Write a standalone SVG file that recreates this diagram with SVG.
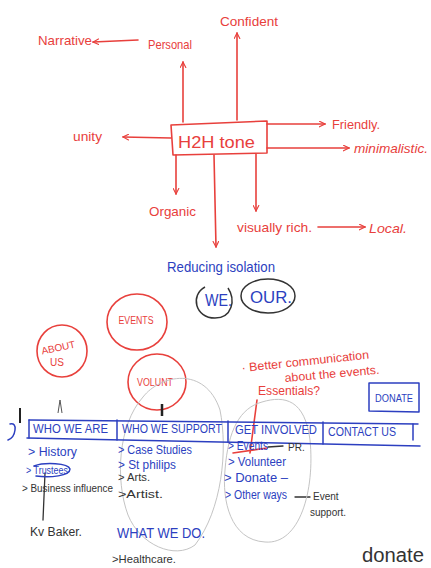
<svg xmlns="http://www.w3.org/2000/svg" width="431" height="568" viewBox="0 0 431 568">
<defs>
<style>
.r{fill:#e8403c;font-family:"Liberation Sans",Arial,sans-serif}
.b{fill:#2c3fc0;font-family:"Liberation Sans",Arial,sans-serif}
.k{fill:#333;font-family:"Liberation Sans",Arial,sans-serif}
.rl{fill:none;stroke:#e8403c;stroke-width:1.6;stroke-linecap:round;stroke-linejoin:round}
.bl{fill:none;stroke:#2c3fc0;stroke-width:1.5;stroke-linecap:round;stroke-linejoin:round}
.kl{fill:none;stroke:#333;stroke-width:1.3;stroke-linecap:round}
.gl{fill:none;stroke:#c4c4c4;stroke-width:1}
</style>
<marker id="ah" viewBox="0 0 10 10" refX="9" refY="5" markerWidth="7" markerHeight="7" orient="auto" markerUnits="userSpaceOnUse">
<path d="M1,1 L9,5 L1,9" fill="none" stroke="#e8403c" stroke-width="1.6" stroke-linecap="round"/>
</marker>
</defs>
<rect width="431" height="568" fill="#fff"/>

<g id="connectors">
<path class="rl" d="M138,40 L93,42" marker-end="url(#ah)"/>
<path class="rl" d="M183,122 L183,62" marker-end="url(#ah)"/>
<path class="rl" d="M237,120 L237,33" marker-end="url(#ah)"/>
<path class="rl" d="M267,124 L325,124" marker-end="url(#ah)"/>
<path class="rl" d="M171,138 L123,137" marker-end="url(#ah)"/>
<path class="rl" d="M267,148 L349,148" marker-end="url(#ah)"/>
<path class="rl" d="M176,155 L176,194" marker-end="url(#ah)"/>
<path class="rl" d="M214,155 L216,247" marker-end="url(#ah)"/>
<path class="rl" d="M256,154 L256,211" marker-end="url(#ah)"/>
<path class="rl" d="M318,227 L365,227" marker-end="url(#ah)"/>
<path class="rl" d="M257,400 L250,453"/>
<path class="rl" d="M233,453 L267,448"/>
<path class="kl" d="M295,497 L310,497"/>
<path class="kl" d="M268,447 L283,446"/>
<path class="kl" d="M45,473 L43,520"/>
</g>

<g id="h2h">
<path class="rl" d="M171,125 L267,121 L267,153 L173,155 Z"/>
<text class="r" x="178" y="148" font-size="17" textLength="77" lengthAdjust="spacingAndGlyphs">H2H  tone</text>
</g>
<g id="narrative"><text class="r" x="38" y="45" font-size="13" textLength="54" lengthAdjust="spacingAndGlyphs">Narrative</text></g>
<g id="personal"><text class="r" x="148" y="49" font-size="13" textLength="44" lengthAdjust="spacingAndGlyphs">Personal</text></g>
<g id="confident"><text class="r" x="220" y="26" font-size="13" textLength="58" lengthAdjust="spacingAndGlyphs">Confident</text></g>
<g id="friendly"><text class="r" x="332" y="129" font-size="13" textLength="48" lengthAdjust="spacingAndGlyphs">Friendly.</text></g>
<g id="unity"><text class="r" x="73" y="141" font-size="13" textLength="29" lengthAdjust="spacingAndGlyphs">unity</text></g>
<g id="minimalistic"><text class="r" x="354" y="153" font-size="13" font-style="italic" textLength="74" lengthAdjust="spacingAndGlyphs">minimalistic.</text></g>
<g id="organic"><text class="r" x="149" y="216" font-size="13" textLength="47" lengthAdjust="spacingAndGlyphs">Organic</text></g>
<g id="visually"><text class="r" x="237" y="232" font-size="13" textLength="75" lengthAdjust="spacingAndGlyphs">visually rich.</text></g>
<g id="local"><text class="r" x="369" y="233" font-size="13" font-style="italic" textLength="38" lengthAdjust="spacingAndGlyphs">Local.</text></g>

<g id="reducing">
<text class="b" x="167" y="272" font-size="15" textLength="108" lengthAdjust="spacingAndGlyphs">Reducing isolation</text>
</g>
<g id="we">
<path fill="none" stroke="#333" stroke-width="1.5" d="M205,287 C190,295 195,318 215,318 C232,318 236,300 228,288"/>
<text class="b" x="205" y="306" font-size="17" textLength="27" lengthAdjust="spacingAndGlyphs">WE.</text>
</g>
<g id="our">
<ellipse cx="268" cy="296" rx="27" ry="17" fill="none" stroke="#333" stroke-width="1.5"/>
<text class="b" x="250" y="303" font-size="17" textLength="42" lengthAdjust="spacingAndGlyphs">OUR.</text>
</g>

<g id="events">
<ellipse cx="137" cy="322" rx="30" ry="28" class="rl"/>
<text class="r" x="136" y="324" font-size="10" text-anchor="middle" textLength="35" lengthAdjust="spacingAndGlyphs">EVENTS</text>
</g>
<g id="aboutus">
<ellipse cx="62" cy="351" rx="25" ry="26" class="rl"/>
<text class="r" x="59" y="351" font-size="10" text-anchor="middle" transform="rotate(-12 59 351)">ABOUT</text>
<text class="r" x="57" y="366" font-size="10" text-anchor="middle">US</text>
</g>
<g id="volunt">
<ellipse cx="157" cy="382" rx="29" ry="28" class="rl"/>
<text class="r" x="155" y="386" font-size="10" text-anchor="middle" textLength="36" lengthAdjust="spacingAndGlyphs">VOLUNT</text>
</g>

<g id="notes">
<text class="r" x="242" y="372" font-size="12" transform="rotate(-6 242 372)" textLength="128" lengthAdjust="spacingAndGlyphs">· Better communication</text>
<text class="r" x="285" y="382" font-size="12" transform="rotate(-5 285 382)" textLength="95" lengthAdjust="spacingAndGlyphs">about the events.</text>
<text class="r" x="258" y="395" font-size="13" textLength="62" lengthAdjust="spacingAndGlyphs">Essentials?</text>
</g>

<g id="donate-btn">
<path class="bl" d="M369,383 L419,383 L419,412 L369,411 Z"/>
<text class="b" x="375" y="402" font-size="10" textLength="38" lengthAdjust="spacingAndGlyphs">DONATE</text>
</g>

<g id="pencil-loops">
<path class="gl" d="M143,397 C160,375 205,365 220,410 C228,450 222,510 195,545 C175,560 140,545 128,515 C115,480 118,425 143,397"/>
<path class="gl" d="M262,402 C285,395 305,400 310,440 C315,490 300,545 265,542 C230,540 222,500 225,470 C228,430 240,408 262,402"/>
</g>

<g id="navbar">
<path class="bl" d="M29,420 L418,424"/>
<path class="bl" d="M27,438 L420,446"/>
<path class="bl" d="M29,420 L29,438 M117,420 L117,440 M228,421 L228,442 M323,422 L323,444 M413,424 L413,440"/>
<path class="bl" d="M10,424 Q16,423 15,430 Q14,438 8,440"/>
<path stroke="#222" stroke-width="2" d="M20,408 L20,423"/>
<path stroke="#555" stroke-width="1" fill="none" d="M58,413 L60,400 L62,413"/>
<path stroke="#222" stroke-width="2.5" d="M162,404 L162,416"/>
<text class="b" x="33" y="433" font-size="12" textLength="75" lengthAdjust="spacingAndGlyphs">WHO WE ARE</text>
<text class="b" x="122" y="433" font-size="12" textLength="100" lengthAdjust="spacingAndGlyphs">WHO WE SUPPORT</text>
<text class="b" x="235" y="434" font-size="12" textLength="82" lengthAdjust="spacingAndGlyphs">GET INVOLVED</text>
<text class="b" x="328" y="436" font-size="12" textLength="68" lengthAdjust="spacingAndGlyphs">CONTACT US</text>
</g>

<g id="who-we-are">
<text class="b" x="28" y="456" font-size="12" textLength="49" lengthAdjust="spacingAndGlyphs">&gt; History</text>
<text class="b" x="26" y="474" font-size="11" textLength="42" lengthAdjust="spacingAndGlyphs">&gt; Trustees</text>
<path class="bl" stroke-width="1" d="M34,466 C45,462 68,463 70,469 C70,476 50,478 36,476"/>
<text class="k" x="22" y="492" font-size="10" textLength="91" lengthAdjust="spacingAndGlyphs">&gt; Business influence</text>
<text class="k" x="30" y="536" font-size="12" textLength="52" lengthAdjust="spacingAndGlyphs">Kv Baker.</text>
</g>

<g id="who-we-support">
<text class="b" x="118" y="454" font-size="12" textLength="74" lengthAdjust="spacingAndGlyphs">&gt; Case Studies</text>
<text class="b" x="118" y="469" font-size="12" textLength="58" lengthAdjust="spacingAndGlyphs">&gt; St philips</text>
<text class="k" x="118" y="481" font-size="10" textLength="32" lengthAdjust="spacingAndGlyphs">&gt; Arts.</text>
<text class="k" x="118" y="498" font-size="11" textLength="45" lengthAdjust="spacingAndGlyphs">&gt;Artist.</text>
<text class="b" x="117" y="538" font-size="15" textLength="88" lengthAdjust="spacingAndGlyphs">WHAT WE DO.</text>
<text class="k" x="112" y="563" font-size="11" textLength="64" lengthAdjust="spacingAndGlyphs">&gt;Healthcare.</text>
</g>

<g id="get-involved">
<text class="b" x="228" y="450" font-size="12" textLength="40" lengthAdjust="spacingAndGlyphs">&gt; Events</text>
<text class="k" x="288" y="451" font-size="10">PR.</text>
<text class="b" x="228" y="466" font-size="12" textLength="58" lengthAdjust="spacingAndGlyphs">&gt; Volunteer</text>
<text class="b" x="224" y="482" font-size="12" textLength="64" lengthAdjust="spacingAndGlyphs">&gt; Donate –</text>
<text class="b" x="225" y="499" font-size="12" textLength="62" lengthAdjust="spacingAndGlyphs">&gt; Other ways</text>
<text class="k" x="313" y="500" font-size="10">Event</text>
<text class="k" x="310" y="516" font-size="10">support.</text>
</g>

<g id="donate-scribble">
<text class="k" x="362" y="562" font-size="20" textLength="62" lengthAdjust="spacingAndGlyphs">donate</text>
</g>
</svg>
